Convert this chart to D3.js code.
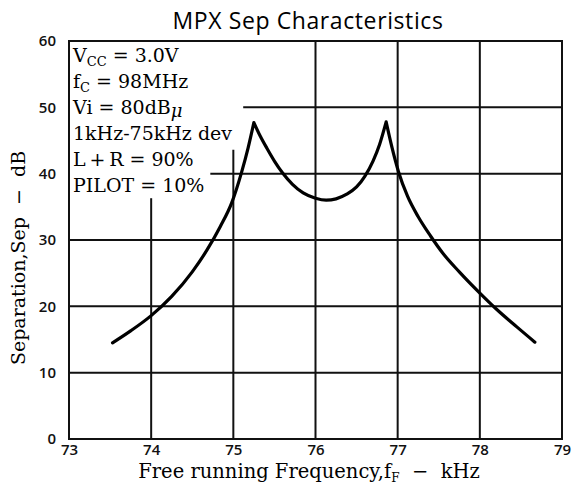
<!DOCTYPE html>
<html>
<head>
<meta charset="utf-8">
<script src="https://cdn.jsdelivr.net/npm/d3@7"></script>
<style>
  body { margin: 0; background: #fff; }
  svg { display: block; }
</style>
</head>
<body>
<svg id="chart" width="578" height="487"></svg>
<script>
// ---- data ----
const chartTitle = "MPX Sep Characteristics";
const xTickValues = [73, 74, 75, 76, 77, 78, 79];
const yTickValues = [0, 10, 20, 30, 40, 50, 60];

// Free running frequency (kHz) and separation (dB) along the measured curve
const freq = [73.53, 73.75, 74.00, 74.25, 74.50, 74.68, 74.84, 74.98, 75.10, 75.18, 75.25,
              75.33, 75.41, 75.50, 75.60, 75.72, 75.85, 76.00, 76.13, 76.25, 76.38,
              76.50, 76.60, 76.70, 76.78, 76.86,
              76.93, 77.01, 77.12, 77.25, 77.40, 77.55, 77.75, 78.00, 78.20, 78.45, 78.67];
const sep  = [14.5, 16.3, 18.6, 21.5, 25.2, 28.5, 32.0, 35.6, 40.2, 43.9, 47.7,
              45.6, 43.8, 41.9, 40.1, 38.4, 37.1, 36.3, 36.0, 36.2, 36.9,
              38.0, 39.6, 41.9, 44.4, 47.8,
              44.0, 40.3, 36.6, 33.5, 30.6, 28.0, 25.2, 22.0, 19.6, 16.9, 14.6];
// indices of the two separation peaks (cusps)
const peakIndex = [10, 25];

// Measurement conditions: [main text, subscript, trailing text]
const conditions = [
  ["V", "CC", " = 3.0V"],
  ["f", "C", " = 98MHz"],
  ["Vi = 80dB", "\u03BC", ""],
  ["1kHz-75kHz dev", "", ""],
  ["L\u2009+\u2009R = 90%", "", ""],
  ["PILOT = 10%", "", ""]
];
const xTitle = ["Free running Frequency,f", "F", "  \u2212  kHz"];
const yTitle = "Separation,Sep  \u2212  dB";

// ---- layout ----
const svg = d3.select("#chart");
const plot = { left: 69, right: 562, top: 41, bottom: 439 };

const x = d3.scaleLinear().domain([73, 79]).range([plot.left, plot.right]);
const y = d3.scaleLinear().domain([0, 60]).range([plot.bottom, plot.top]);

const serif = "'DejaVu Serif', 'Liberation Serif', serif";
const sans = "'Open Sans', 'Noto Sans', sans-serif";

// grid lines; some stop short where the condition text sits
const hGrid = [
  { v: 10, from: 73 }, { v: 20, from: 73 }, { v: 30, from: 73 },
  { v: 40, from: 74.72 }, { v: 50, from: 75.12 }
];
const vGrid = [
  { f: 74, to: 36.3 }, { f: 75, to: 43.6 }, { f: 76, to: 60 },
  { f: 77, to: 60 }, { f: 78, to: 60 }
];

const grid = svg.append("g").attr("stroke", "#111").attr("stroke-width", 2);
grid.selectAll("line.h").data(hGrid).join("line")
  .attr("class", "h")
  .attr("x1", d => x(d.from)).attr("x2", x(79))
  .attr("y1", d => y(d.v)).attr("y2", d => y(d.v));
grid.selectAll("line.v").data(vGrid).join("line")
  .attr("class", "v")
  .attr("x1", d => x(d.f)).attr("x2", d => x(d.f))
  .attr("y1", y(0)).attr("y2", d => y(d.to));

// plot frame
svg.append("rect")
  .attr("x", plot.left).attr("y", plot.top)
  .attr("width", plot.right - plot.left).attr("height", plot.bottom - plot.top)
  .attr("fill", "none").attr("stroke", "#111").attr("stroke-width", 2);

// axes (labels only; the frame and grid carry the lines)
const xAxis = svg.append("g")
  .attr("transform", `translate(0,${plot.bottom})`)
  .call(d3.axisBottom(x).tickValues(xTickValues).tickSize(0).tickPadding(5).tickFormat(d3.format("d")));
const yAxis = svg.append("g")
  .attr("transform", `translate(${plot.left},0)`)
  .call(d3.axisLeft(y).tickValues(yTickValues).tickSize(0).tickPadding(13).tickFormat(d3.format("d")));
[xAxis, yAxis].forEach(a => {
  a.select(".domain").remove();
  a.selectAll("text")
    .attr("fill", "#111")
    .style("font-family", sans)
    .style("font-size", "15px")
    .style("font-weight", 600);
});

// separation curve: three smooth runs meeting at sharp peaks
const pts = freq.map((f, i) => [f, sep[i]]);
const runs = [
  pts.slice(0, peakIndex[0] + 1),
  pts.slice(peakIndex[0], peakIndex[1] + 1),
  pts.slice(peakIndex[1])
];
const line = d3.line()
  .x(d => x(d[0])).y(d => y(d[1]))
  .curve(d3.curveMonotoneX);
svg.append("path")
  .attr("d", runs.map(r => line(r)).join(""))
  .attr("fill", "none")
  .attr("stroke", "#000")
  .attr("stroke-width", 3.2)
  .attr("stroke-linejoin", "miter")
  .attr("stroke-linecap", "round");

// condition text block
const cond = svg.append("g")
  .style("font-family", serif)
  .style("font-size", "19px")
  .attr("fill", "#000");
cond.selectAll("text").data(conditions).join("text")
  .attr("x", plot.left + 4)
  .attr("y", (d, i) => 62 + i * 26)
  .attr("xml:space", "preserve")
  .style("white-space", "pre")
  .each(function (d) {
    const t = d3.select(this);
    t.append("tspan").text(d[0]);
    if (d[1]) {
      const isMu = d[1] === "\u03BC";
      t.append("tspan")
        .attr("dy", isMu ? 3 : 4)
        .style("font-size", isMu ? "18px" : "13px")
        .style("font-style", isMu ? "italic" : "normal")
        .text(d[1]);
      if (d[2]) t.append("tspan").attr("dy", isMu ? -3 : -4).text(d[2]);
    }
  });

// title
svg.append("text")
  .attr("x", 308)
  .attr("y", 29)
  .attr("text-anchor", "middle")
  .style("font-family", sans)
  .style("font-size", "23px")
  .style("font-weight", 500)
  .style("letter-spacing", "0.6px")
  .attr("fill", "#000")
  .text(chartTitle);

// x axis title
const xt = svg.append("text")
  .attr("x", 309)
  .attr("y", 478)
  .attr("text-anchor", "middle")
  .attr("xml:space", "preserve")
  .style("white-space", "pre")
  .style("font-family", serif)
  .style("font-size", "19.5px")
  .attr("fill", "#000");
xt.append("tspan").text(xTitle[0]);
xt.append("tspan").attr("dy", 4).style("font-size", "12px").text(xTitle[1]);
xt.append("tspan").attr("dy", -4).text(xTitle[2]);

// y axis title
svg.append("text")
  .attr("transform", `translate(25,258) rotate(-90)`)
  .attr("text-anchor", "middle")
  .attr("xml:space", "preserve")
  .style("white-space", "pre")
  .style("font-family", serif)
  .style("font-size", "19px")
  .attr("fill", "#000")
  .text(yTitle);
</script>
</body>
</html>
